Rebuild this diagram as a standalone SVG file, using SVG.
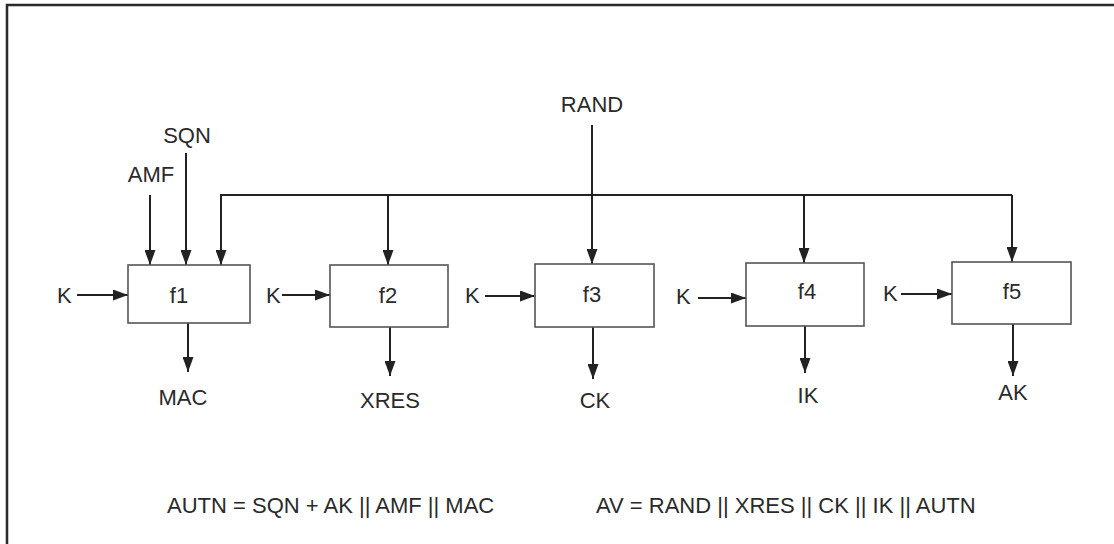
<svg xmlns="http://www.w3.org/2000/svg" width="1114" height="544" viewBox="0 0 1114 544">
  <style>
    .lbl { font-family: "Liberation Sans", Arial, Helvetica, sans-serif; font-size: 22px; fill: #2a2a2a; }
    .mid { text-anchor: middle; }
    .box { fill: #ffffff; stroke: #555555; stroke-width: 1.6; }
    .wire { fill: none; stroke: #222222; stroke-width: 2; }
    .frame { fill: none; stroke: #2a2a2a; stroke-width: 2.5; }
  </style>
  <defs>
    <marker id="arr" markerUnits="userSpaceOnUse" markerWidth="15" markerHeight="11" refX="15" refY="5.5" orient="auto">
      <path d="M0,0 L15,5.5 L0,11 Z" fill="#222222"/>
    </marker>
  </defs>
  <rect x="0" y="0" width="1114" height="544" fill="#ffffff"/>
  <path class="frame" d="M7,544 L7,5 L1114,5"/>

  <g id="connectors">
    <path class="wire" d="M221,265 L221,195 L1012,195"/>
    <line class="wire" x1="221" y1="200" x2="221" y2="265" marker-end="url(#arr)"/>
    <line class="wire" x1="388" y1="195" x2="388" y2="265" marker-end="url(#arr)"/>
    <line class="wire" x1="592" y1="125" x2="592" y2="264" marker-end="url(#arr)"/>
    <line class="wire" x1="804" y1="195" x2="804" y2="263" marker-end="url(#arr)"/>
    <line class="wire" x1="1012" y1="195" x2="1012" y2="262" marker-end="url(#arr)"/>
    <line class="wire" x1="150" y1="195" x2="150" y2="265" marker-end="url(#arr)"/>
    <line class="wire" x1="186" y1="153" x2="186" y2="265" marker-end="url(#arr)"/>
    <line class="wire" x1="77" y1="295" x2="128" y2="295" marker-end="url(#arr)"/>
    <line class="wire" x1="282" y1="295" x2="330" y2="295" marker-end="url(#arr)"/>
    <line class="wire" x1="485" y1="296" x2="535" y2="296" marker-end="url(#arr)"/>
    <line class="wire" x1="698" y1="298" x2="746" y2="298" marker-end="url(#arr)"/>
    <line class="wire" x1="901" y1="294" x2="952" y2="294" marker-end="url(#arr)"/>
    <line class="wire" x1="188" y1="323" x2="188" y2="372" marker-end="url(#arr)"/>
    <line class="wire" x1="390" y1="327" x2="390" y2="376" marker-end="url(#arr)"/>
    <line class="wire" x1="593" y1="327" x2="593" y2="379" marker-end="url(#arr)"/>
    <line class="wire" x1="805" y1="326" x2="805" y2="373" marker-end="url(#arr)"/>
    <line class="wire" x1="1013" y1="324" x2="1013" y2="376" marker-end="url(#arr)"/>
  </g>

  <g id="f1">
    <rect class="box" x="128" y="265" width="122" height="58"/>
    <text class="lbl mid" x="179" y="303">f1</text>
  </g>
  <g id="f2">
    <rect class="box" x="330" y="265" width="118" height="62"/>
    <text class="lbl mid" x="388" y="303">f2</text>
  </g>
  <g id="f3">
    <rect class="box" x="535" y="264" width="119" height="63"/>
    <text class="lbl mid" x="592" y="302">f3</text>
  </g>
  <g id="f4">
    <rect class="box" x="746" y="263" width="118" height="63"/>
    <text class="lbl mid" x="807" y="299">f4</text>
  </g>
  <g id="f5">
    <rect class="box" x="952" y="262" width="119" height="62"/>
    <text class="lbl mid" x="1012" y="299">f5</text>
  </g>

  <g id="inputs">
    <text class="lbl mid" x="187" y="143">SQN</text>
    <text class="lbl mid" x="151" y="182">AMF</text>
    <text class="lbl mid" x="592" y="112">RAND</text>
    <text class="lbl" x="57" y="303">K</text>
    <text class="lbl" x="266" y="303">K</text>
    <text class="lbl" x="465" y="303">K</text>
    <text class="lbl" x="676" y="304">K</text>
    <text class="lbl" x="883" y="301">K</text>
  </g>

  <g id="outputs">
    <text class="lbl mid" x="183" y="405">MAC</text>
    <text class="lbl mid" x="390" y="408">XRES</text>
    <text class="lbl mid" x="595" y="408">CK</text>
    <text class="lbl mid" x="808" y="403">IK</text>
    <text class="lbl mid" x="1013" y="400">AK</text>
  </g>

  <g id="formulas">
    <text class="lbl" x="167" y="513">AUTN = SQN + AK || AMF || MAC</text>
    <text class="lbl" x="596" y="513">AV = RAND || XRES || CK || IK || AUTN</text>
  </g>
</svg>
